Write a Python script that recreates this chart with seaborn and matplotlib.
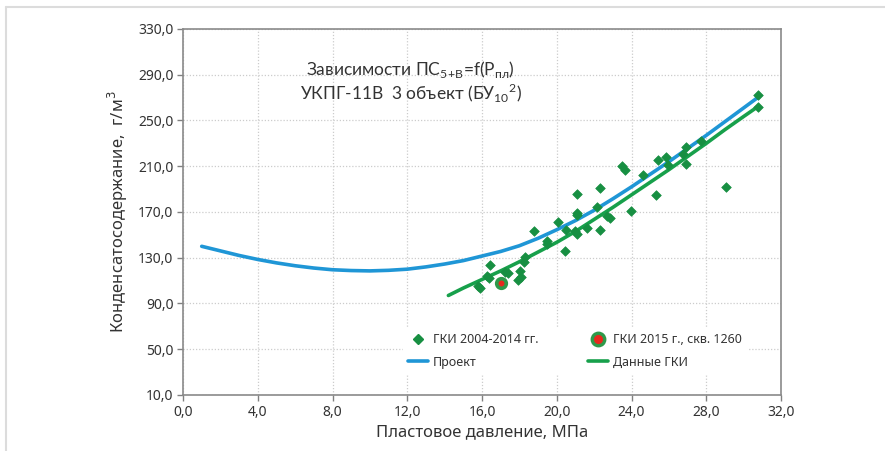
import matplotlib
matplotlib.use("Agg")
import matplotlib.pyplot as plt
import seaborn as sns
import pandas as pd
from matplotlib.lines import Line2D

# --- data ---
x_proj = [1, 2, 3, 4, 5, 6, 7, 8, 9, 10, 11, 12, 13, 14, 15, 16, 17, 18, 19,
          20, 21, 22, 23, 24, 25, 26, 27, 28, 29, 30, 30.75]
y_proj = [140, 136, 132, 128.5, 125.5, 123, 121, 119.5, 118.8, 118.5, 119, 120,
          122, 124.5, 127.5, 131.5, 135.5, 140.5, 147, 154.5, 162.5, 171.5, 181.5,
          192, 203, 214, 225.5, 237, 249, 261, 270]

x_gki_line = [14.2, 15, 16, 17, 18, 19, 20, 21, 22, 23, 24, 25, 26, 27, 28, 29, 30, 30.75]
y_gki_line = [97, 103.5, 111, 118.5, 126.5, 135, 143.5, 153, 163.5, 174, 185, 196,
              207, 218.5, 230, 242, 253.5, 262]

x_pts = [30.75, 30.75, 27.73, 26.93, 26.75, 26.93, 25.95, 25.87, 25.42, 25.3,
         24.59, 23.47, 23.64, 23.95, 29.07, 22.31, 22.31, 22.13, 22.67, 22.84,
         21.07, 21.07, 21.1, 21.6, 20.95, 21.07, 20.5, 20.09, 18.8, 19.47, 19.5,
         20.44, 18.31, 18.22, 16.44, 17.24, 17.37, 18.04, 17.9, 18.08, 16.27,
         16.35, 15.77, 15.91]
y_pts = [272, 261.7, 232.4, 226.5, 220.7, 211.9, 211, 217.7, 215.7, 184.7,
         202.3, 210.4, 206.7, 171, 192, 190.8, 154, 174, 166.5, 165,
         185.7, 169, 167, 156.3, 153.5, 150.8, 154.5, 161, 153.7, 144.7, 142,
         136, 130.4, 126.6, 123.7, 117.8, 117, 118.7, 110.6, 112.9, 114.1,
         112, 105.3, 103.3]

x_2015 = [17.0]
y_2015 = [107.5]

x_ticks = [0, 4, 8, 12, 16, 20, 24, 28, 32]
x_tick_labels = ['0,0', '4,0', '8,0', '12,0', '16,0', '20,0', '24,0', '28,0', '32,0']
y_ticks = [10, 50, 90, 130, 170, 210, 250, 290, 330]
y_tick_labels = ['10,0', '50,0', '90,0', '130,0', '170,0', '210,0', '250,0', '290,0', '330,0']

blue = '#1f96d6'
green = '#17a04b'
dgreen = '#178f42'

sns.set_style('white')
plt.rcParams['font.family'] = ['Noto Sans', 'DejaVu Sans']

fig = plt.figure(figsize=(8.85, 4.51), dpi=100)
ax = fig.add_axes([0.2068, 0.1242, 0.6757, 0.8115])

# light frame of the screenshot
fig.add_artist(Line2D([6 / 885, 1], [1 - 7 / 451, 1 - 7 / 451], color='#dcdcdc', lw=1.5))
fig.add_artist(Line2D([6 / 885, 6 / 885], [0, 1 - 7 / 451], color='#dcdcdc', lw=1.5))

df_proj = pd.DataFrame({'x': x_proj, 'y': y_proj})
df_line = pd.DataFrame({'x': x_gki_line, 'y': y_gki_line})
df_pts = pd.DataFrame({'x': x_pts, 'y': y_pts})

sns.lineplot(data=df_proj, x='x', y='y', ax=ax, color=blue, lw=2.6, sort=False)
sns.lineplot(data=df_line, x='x', y='y', ax=ax, color=green, lw=2.6, sort=False)
sns.scatterplot(data=df_pts, x='x', y='y', ax=ax, marker='D', s=24, color=dgreen,
                edgecolor=dgreen, linewidth=0.5, zorder=3)
ax.scatter(x_2015, y_2015, s=48, color='#e8281e', edgecolor='#2e9a4a', linewidth=2.6, zorder=4)

ax.set_xlim(0, 32)
ax.set_ylim(10, 330)
ax.set_xticks(x_ticks)
ax.set_xticklabels(x_tick_labels, fontsize=10, color='#333333')
ax.set_yticks(y_ticks)
ax.set_yticklabels(y_tick_labels, fontsize=10, color='#333333')
ax.tick_params(axis='both', direction='out', length=4, width=1, color='#808080',
               bottom=True, left=True, pad=3)
ax.grid(True, ls=(0, (1, 1.5)), color='#cccccc', lw=0.9)
for s in ax.spines.values():
    s.set_color('#8a8a8a')
    s.set_linewidth(1.2)

ax.set_xlabel('Пластовое давление, МПа', fontsize=12, color='#333333', labelpad=3)
ax.set_ylabel('Конденсатосодержание,  г/м$^3$', fontsize=12, color='#333333', labelpad=6)

ax.text(0.381, 0.856, 'Зависимости ПС$_{\\mathregular{5\\!+\\!В}}$=f(P$_{\\mathregular{пл}}$)\n'
        'УКПГ-11В  3 объект (БУ$_{\\mathregular{10}}$$^{\\mathregular{2}}$)',
        transform=ax.transAxes, ha='center', va='center', fontsize=12.5,
        family=['Lato', 'DejaVu Sans'], color='#333333', linespacing=1.1)

h_pts = Line2D([], [], marker='D', ls='none', color=dgreen, markersize=5)
h_proj = Line2D([], [], color=blue, lw=2.6)
h_2015 = Line2D([], [], marker='o', ls='none', markerfacecolor='#e8281e',
                markeredgecolor='#2e9a4a', markeredgewidth=2.4, markersize=9)
h_line = Line2D([], [], color=green, lw=2.6)
leg = ax.legend([h_pts, h_proj, h_2015, h_line],
                ['ГКИ 2004-2014 гг.', 'Проект', 'ГКИ 2015 г., скв. 1260', 'Данные ГКИ'],
                loc='center', bbox_to_anchor=(0.655, 0.12), ncol=2, fontsize=9,
                frameon=True, framealpha=1, edgecolor='white', facecolor='white',
                handlelength=1.6, handletextpad=0.4, columnspacing=4.0,
                labelspacing=0.75, borderpad=0.4)
for t in leg.get_texts():
    t.set_color('#333333')

fig.savefig('out.png', dpi=100)
